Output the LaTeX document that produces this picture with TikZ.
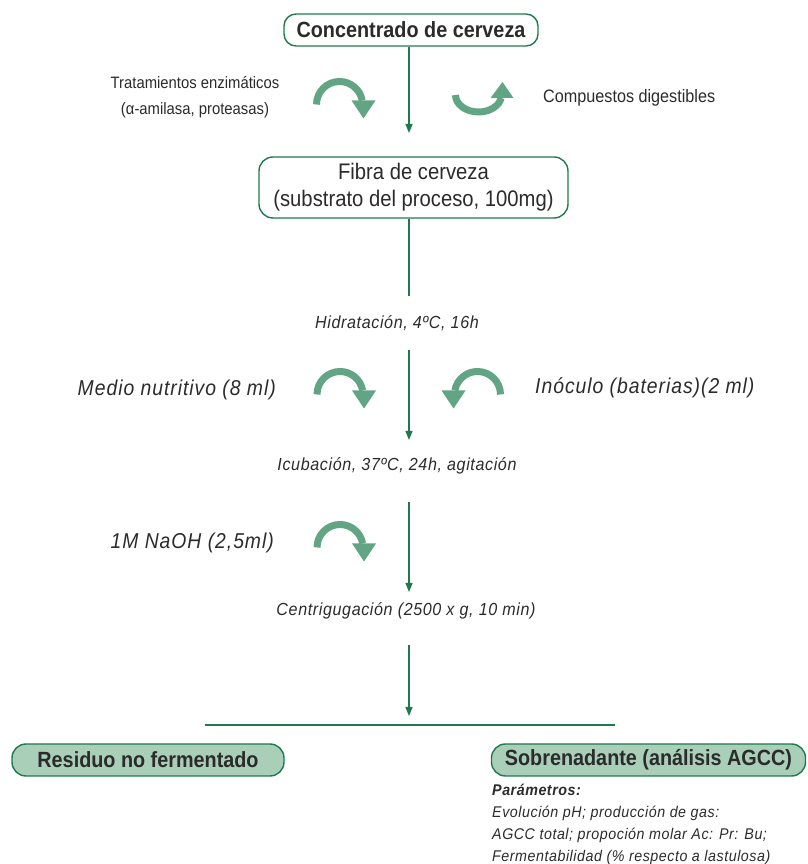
\documentclass[tikz,border=0pt]{standalone}
\usepackage{fontspec}
\setmainfont{Liberation Sans}[FakeStretch=0.9]
\newfontfamily\itbig{Liberation Sans}[FakeStretch=0.9, LetterSpace=4.5]
\newfontfamily\itsm{Liberation Sans}[FakeStretch=0.92, LetterSpace=3.5]
\usetikzlibrary{arrows.meta}
\definecolor{lg}{HTML}{1E7A4E}
\definecolor{ag}{HTML}{62A585}
\definecolor{bf}{HTML}{A9CFB8}
\definecolor{tx}{HTML}{2B2B2B}
\tikzset{
  flow/.style={draw=lg, line width=1.3pt},
  flowarr/.style={flow, -{Triangle[length=9pt,width=7pt]}},
  boxbase/.style={draw=lg, line width=1.4pt, text=tx, inner sep=0pt, align=center},
  topbox/.style={boxbase, rounded corners=12pt, fill=white, minimum width=254pt, minimum height=32pt, font=\fontsize{22}{24}\selectfont\bfseries},
  fibbox/.style={boxbase, rounded corners=14pt, fill=white, minimum width=309pt, minimum height=61pt, font=\fontsize{22.5}{27}\selectfont},
  endbox/.style={boxbase, rounded corners=14pt, fill=bf, minimum height=32pt, font=\fontsize{22}{24}\selectfont\bfseries},
  sidetxt/.style={text=tx, font=\fontsize{16.5}{26}\selectfont, align=center, inner sep=0pt},
  bigit/.style={text=tx, font=\fontsize{21.5}{24}\selectfont\itbig\itshape, inner sep=0pt},
  stepit/.style={text=tx, font=\fontsize{17.5}{20}\selectfont\itsm\itshape, inner sep=0pt},
  partxt/.style={text=tx, font=\fontsize{15.5}{22}\selectfont\itsm\itshape, align=left, inner sep=0pt},
  cwarrow/.pic={
    \draw[ag, line width=7pt] (-23,0) arc (180:10:23);
    \fill[ag] (12,4) -- (36,4) -- (24,-14) -- cycle;
  },
  uparrow/.pic={
    \draw[ag, line width=7pt] (-23,0) arc [start angle=180, end angle=350, x radius=23, y radius=17];
    \fill[ag] (12,-3) -- (35,-3) -- (24,13) -- cycle;
  }
}
\begin{document}
\begin{tikzpicture}[x=1pt,y=1pt]
\useasboundingbox (0,0) rectangle (807,864);

% boxes
\node[topbox] (top) at (411,834) {Concentrado de cerveza};
\node[fibbox] (fib) at (413.5,676.5) {Fibra de cerveza\\(substrato del proceso, 100mg)};
\node[endbox, minimum width=272pt] (res) at (148,104) {Residuo no fermentado};
\node[endbox, minimum width=314pt] (sob) at (648.5,104) {Sobrenadante (análisis AGCC)};

% side texts
\node[sidetxt] (trat) at (195,767) {Tratamientos enzimáticos\\(α-amilasa, proteasas)};
\node[sidetxt, anchor=west, font=\fontsize{18}{22}\selectfont] (comp) at (543,766) {Compuestos digestibles};
\node[stepit] (hid) at (397,541) {Hidratación, 4ºC, 16h};
\node[bigit, anchor=east] (medio) at (276,474) {Medio nutritivo (8 ml)};
\node[bigit, anchor=west] (inoc) at (535,476) {Inóculo (baterias)(2 ml)};
\node[stepit] (icub) at (397,398) {Icubación, 37ºC, 24h, agitación};
\node[bigit, anchor=east] (naoh) at (274,321) {1M NaOH (2,5ml)};
\node[stepit] (centr) at (406,253) {Centrigugación (2500 x g, 10 min)};
\node[partxt, anchor=north west] (par) at (492,80) {{\bfseries Parámetros:}\\Evolución pH; producción de gas:\\AGCC total; propoción molar Ac: Pr: Bu;\\Fermentabilidad (\% respecto a lastulosa)};

% coordinates for free ends
\coordinate (e1) at (409,731);
\coordinate (e2) at (409,568);
\coordinate (s3) at (409,514);
\coordinate (e3) at (409,424);
\coordinate (s4) at (409,362);
\coordinate (e4) at (409,272);
\coordinate (s5) at (409,219);
\coordinate (e5) at (409,148);
\coordinate (hl) at (205,139);
\coordinate (hr) at (615,139);

% connectors
\draw[flowarr] (top.south -| e1) -- (e1);
\draw[flow] (fib.south -| e2) -- (e2);
\draw[flowarr] (s3) -- (e3);
\draw[flowarr] (s4) -- (e4);
\draw[flowarr] (s5) -- (e5);
\draw[flow] (hl) -- (hr);

% curved arrows
\pic at (339.5,759.5) {cwarrow};
\pic at (478.5,769) {uparrow};
\pic at (340,469.5) {cwarrow};
\pic[xscale=-1] at (477.5,469.5) {cwarrow};
\pic at (340,316.5) {cwarrow};
\end{tikzpicture}
\end{document}
